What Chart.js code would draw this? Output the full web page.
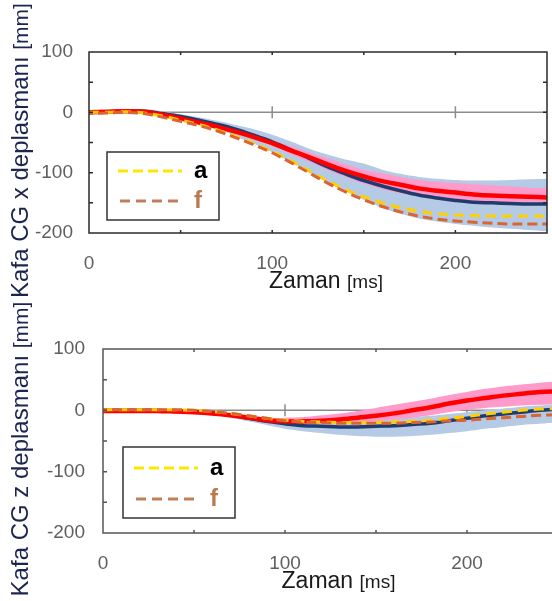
<!DOCTYPE html>
<html>
<head>
<meta charset="utf-8">
<script src="https://cdn.jsdelivr.net/npm/chart.js@4.4.1/dist/chart.umd.min.js"></script>
<style>
  html, body { margin: 0; padding: 0; background: #fff; overflow: hidden; width: 552px; height: 601px; position: relative; }
  canvas { position: absolute; left: 0; }
  #chartX { top: 0; }
  #chartZ { top: 300px; }
</style>
</head>
<body>
<canvas id="chartX" width="552" height="300"></canvas>
<canvas id="chartZ" width="570" height="301"></canvas>
<script>
// zaman ekseni (ms)
const times = [0, 10, 20, 30, 40, 50, 60, 70, 80, 90, 100, 110, 120, 130, 140, 150, 160, 170, 180, 190, 200, 210, 220, 230, 240, 250];

const xTicks = [0, 100, 200];
const yTicks = [-200, -100, 0, 100];
const seriesLabels = ['a', 'f'];
const xAxisTitle = ['Zaman', '[ms]'];
const yTitleX = ['Kafa CG x deplasmanı', '[mm]'];
const yTitleZ = ['Kafa CG z deplasmanı', '[mm]'];

// Kafa CG x deplasmanı
const xBlueUpper = [3, 4, 5, 5, 2, -3, -8, -14, -21, -28, -37, -48, -60, -70, -78, -85, -95, -102, -107, -110, -112, -113, -113, -112, -111, -110];
const xBlueLower = [-3, -2, -1, -2, -6, -12, -18, -26, -40, -52, -66, -82, -99, -116, -131, -145, -158, -168, -176, -181, -185, -188, -191, -193, -195, -197];
const xPinkUpper = [3, 4, 5, 4, -1, -7, -14, -21, -29, -37, -46, -56, -66, -76, -86, -95, -101, -107, -112, -115, -117, -119, -121, -123, -125, -126];
const xPinkLower = [-3, -2, -1, -2, -7, -13, -20, -27, -35, -45, -56, -69, -82, -95, -107, -118, -127, -134, -139, -142, -145, -147, -148, -149, -150, -151];
const xNavy = [0, 1, 2, 2, -2, -7, -13, -20, -28, -38, -49, -62, -76, -90, -102, -113, -122, -130, -137, -142, -146, -149, -150, -151, -152, -152];
const xRed = [0, 1, 2, 1, -4, -10, -17, -24, -32, -41, -51, -63, -74, -86, -97, -106, -114, -120, -126, -130, -133, -136, -138, -139, -140, -141];
const xA = [0, 0, 1, -1, -6, -13, -20, -29, -40, -52, -65, -80, -97, -113, -128, -140, -150, -158, -164, -168, -170, -171, -172, -172, -172, -172];
const xF = [-2, -1, 0, -2, -8, -15, -22, -31, -42, -54, -67, -83, -100, -117, -132, -145, -156, -165, -172, -177, -180, -182, -184, -185, -185, -185];

// Kafa CG z deplasmanı
const zBlueUpper = [2, 2, 2, 2, 1, 0, -2, -5, -9, -12, -15, -17, -18, -18, -17, -15, -13, -11, -9, -6, -3, 0, 3, 6, 8, 10];
const zBlueLower = [-2, -2, -2, -2, -3, -5, -8, -12, -18, -24, -30, -34, -37, -40, -42, -43, -43, -42, -40, -37, -34, -30, -27, -24, -22, -20];
const zPinkUpper = [2, 2, 2, 2, 1, 0, -2, -5, -9, -13, -12, -11, -8, -5, -1, 4, 9, 14, 19, 25, 30, 35, 39, 42, 45, 47];
const zPinkLower = [-4, -4, -4, -4, -5, -6, -8, -11, -15, -19, -22, -23, -22, -21, -20, -18, -15, -12, -8, -3, 1, 4, 6, 8, 9, 10];
const zNavy = [0, 0, 0, 0, -1, -2, -4, -8, -13, -18, -22, -25, -26, -27, -27, -26, -25, -23, -21, -17, -13, -9, -6, -3, 0, 2];
const zRed = [-1, -1, -1, -1, -2, -3, -5, -8, -12, -16, -18, -18, -17, -15, -12, -9, -5, 0, 5, 11, 16, 20, 24, 27, 30, 31];
const zA = [1, 1, 1, 1, 1, 0, -2, -5, -9, -13, -16, -18, -19, -20, -20, -20, -19, -18, -16, -13, -10, -6, -3, 0, 2, 3];
const zF = [1, 1, 1, 1, 1, 0, -2, -5, -9, -13, -17, -19, -20, -21, -21, -21, -21, -20, -19, -17, -16, -14, -12, -10, -8, -7];

const FONT = '"Liberation Sans", Arial, sans-serif';

function pts(values) {
  return times.map((t, i) => ({ x: t, y: values[i] }));
}

// eksen cizgisi, cerceve ve ic tikler
const framePlugin = {
  id: 'frame',
  beforeDatasetsDraw(chart, args, o) {
    const { ctx, chartArea: a, scales: { x, y } } = chart;
    const y0 = y.getPixelForValue(0);
    ctx.save();
    ctx.strokeStyle = o.zeroColor;
    ctx.lineWidth = 1.5;
    ctx.beginPath();
    ctx.moveTo(a.left, y0);
    ctx.lineTo(a.right, y0);
    [100, 200].forEach(t => {
      const px = x.getPixelForValue(t);
      ctx.moveTo(px, y0 - 6);
      ctx.lineTo(px, y0 + 6);
    });
    ctx.stroke();
    ctx.restore();
  },
  afterDatasetsDraw(chart, args, o) {
    const { ctx, chartArea: a, scales: { x, y } } = chart;
    ctx.save();
    ctx.strokeStyle = o.color;
    ctx.lineWidth = 1.5;
    ctx.strokeRect(a.left, a.top, a.right - a.left, a.bottom - a.top);
    ctx.beginPath();
    for (let t = 50; t < 250; t += 50) {
      const px = x.getPixelForValue(t);
      ctx.moveTo(px, a.top); ctx.lineTo(px, a.top + 3);
      ctx.moveTo(px, a.bottom); ctx.lineTo(px, a.bottom - 3);
    }
    for (let v = -150; v < 100; v += 50) {
      const py = y.getPixelForValue(v);
      ctx.moveTo(a.left, py); ctx.lineTo(a.left + 4, py);
      ctx.moveTo(a.right, py); ctx.lineTo(a.right - 4, py);
    }
    ctx.stroke();
    ctx.restore();
  }
};

// kutulu lejant
const legendPlugin = {
  id: 'boxLegend',
  afterDatasetsDraw(chart, args, o) {
    const { ctx, chartArea: a } = chart;
    const bx = a.left + o.dx, by = a.top + o.dy;
    ctx.save();
    ctx.fillStyle = '#fff';
    ctx.fillRect(bx, by, o.w, o.h);
    ctx.strokeStyle = '#333';
    ctx.lineWidth = 1.5;
    ctx.strokeRect(bx, by, o.w, o.h);
    o.items.forEach((it, i) => {
      const ly = by + o.rows[i];
      ctx.setLineDash(it.dash);
      ctx.strokeStyle = it.lineColor;
      ctx.lineWidth = 3;
      ctx.beginPath();
      ctx.moveTo(bx + it.x0, ly);
      ctx.lineTo(bx + it.x1, ly);
      ctx.stroke();
      ctx.setLineDash([]);
      ctx.font = 'bold 24px ' + FONT;
      ctx.fillStyle = it.textColor;
      ctx.textBaseline = 'alphabetic';
      ctx.fillText(seriesLabels[i], bx + 87, ly + 7);
    });
    ctx.restore();
  }
};

// eksen basliklari (iki puntolu)
const titlePlugin = {
  id: 'axisTitles',
  afterDraw(chart, args, o) {
    const { ctx, chartArea: a } = chart;
    ctx.save();
    ctx.textBaseline = 'alphabetic';
    // x basligi
    ctx.font = '23px ' + FONT;
    const w1 = ctx.measureText(xAxisTitle[0] + ' ').width;
    ctx.font = '19px ' + FONT;
    const w2 = ctx.measureText(xAxisTitle[1]).width;
    let sx = (a.left + a.right) / 2 + o.xShift - (w1 + w2) / 2;
    ctx.fillStyle = '#1a1a1a';
    ctx.font = '23px ' + FONT;
    ctx.fillText(xAxisTitle[0], sx, o.xBase);
    ctx.font = '19px ' + FONT;
    ctx.fillText(xAxisTitle[1], sx + w1, o.xBase);
    // y basligi
    ctx.translate(o.yBase, (a.top + a.bottom) / 2 + o.yShift);
    ctx.rotate(-Math.PI / 2);
    ctx.font = '24px ' + FONT;
    const h1 = ctx.measureText(o.yText[0] + ' ').width;
    ctx.font = '21px ' + FONT;
    const h2 = ctx.measureText(o.yText[1]).width;
    const s = -(h1 + h2) / 2;
    ctx.fillStyle = '#1c2550';
    ctx.font = '24px ' + FONT;
    ctx.fillText(o.yText[0], s, 0);
    ctx.font = '21px ' + FONT;
    ctx.fillText(o.yText[1], s + h1, 0);
    ctx.restore();
  }
};

function makeChart(id, d, lay) {
  const base = { pointRadius: 0, tension: 0.35 };
  return new Chart(document.getElementById(id), {
    type: 'line',
    data: {
      datasets: [
        { ...base, data: pts(d.blueUpper), borderWidth: 0, borderColor: 'rgba(0,0,0,0)', backgroundColor: '#b5cae4', fill: '+1', order: 8 },
        { ...base, data: pts(d.blueLower), borderWidth: 0, borderColor: 'rgba(0,0,0,0)', fill: false, order: 7 },
        { ...base, data: pts(d.pinkUpper), borderWidth: 0, borderColor: 'rgba(0,0,0,0)', backgroundColor: '#ff9bcb', fill: '+1', order: 6 },
        { ...base, data: pts(d.pinkLower), borderWidth: 0, borderColor: 'rgba(0,0,0,0)', fill: false, order: 5 },
        { ...base, data: pts(d.navy), borderColor: '#1f3c6e', borderWidth: 3.5, fill: false, order: 4 },
        { ...base, data: pts(d.red), borderColor: '#ff0000', borderWidth: 4.5, fill: false, order: 3 },
        { ...base, label: seriesLabels[0], data: pts(d.a), borderColor: '#ffd000', borderWidth: 3, borderDash: [10, 6], fill: false, order: 2 },
        { ...base, label: seriesLabels[1], data: pts(d.f), borderColor: '#dc6432', borderWidth: 3, borderDash: [10, 5], borderDashOffset: 6, fill: false, order: 1 }
      ]
    },
    options: {
      responsive: false,
      animation: false,
      devicePixelRatio: 1,
      layout: { padding: { top: lay.top, right: lay.right, left: 0, bottom: 0 } },
      scales: {
        x: {
          type: 'linear', min: 0, max: 250,
          afterFit: s => { s.height = lay.xH; },
          grid: { display: false, drawTicks: false },
          border: { display: false },
          ticks: { stepSize: 100, includeBounds: false, padding: 19, color: '#5f5f5f', font: { family: FONT, size: 19 } }
        },
        y: {
          min: -200, max: 100,
          afterFit: s => { s.width = lay.yW; },
          grid: { display: false, drawTicks: false },
          border: { display: false },
          ticks: { stepSize: 100, padding: lay.yPad, color: '#5f5f5f', font: { family: FONT, size: 19 } }
        }
      },
      plugins: {
        legend: { display: false },
        tooltip: { enabled: false },
        frame: { color: lay.frameColor, zeroColor: '#8c8c8c' },
        boxLegend: {
          dx: lay.lgDx, dy: lay.lgDy, w: 112, h: lay.lgH, rows: lay.lgRows,
          items: [
            { lineColor: '#ffe600', textColor: '#000', dash: [10, 5], x0: 11, x1: 75 },
            { lineColor: '#c07f57', textColor: '#b97a4f', dash: [10, 6], x0: 13, x1: 71 }
          ]
        },
        axisTitles: { xShift: 8, xBase: lay.xBase, yBase: 28, yShift: 8, yText: lay.yText }
      }
    },
    plugins: [framePlugin, legendPlugin, titlePlugin]
  });
}

document.addEventListener('DOMContentLoaded', function() {
  makeChart('chartX',
    { blueUpper: xBlueUpper, blueLower: xBlueLower, pinkUpper: xPinkUpper, pinkLower: xPinkLower, navy: xNavy, red: xRed, a: xA, f: xF },
    { top: 52, right: 5, xH: 67, yW: 89, yPad: 16, frameColor: '#2a2a2a', lgDx: 18, lgDy: 100, lgH: 68, lgRows: [19, 49], xBase: 288, yText: yTitleX });
  makeChart('chartZ',
    { blueUpper: zBlueUpper, blueLower: zBlueLower, pinkUpper: zPinkUpper, pinkLower: zPinkLower, navy: zNavy, red: zRed, a: zA, f: zF },
    { top: 49, right: 12, xH: 68, yW: 103, yPad: 18, frameColor: '#555555', lgDx: 20, lgDy: 98, lgH: 71, lgRows: [21, 52], xBase: 288, yText: yTitleZ });
});
</script>
</body>
</html>
